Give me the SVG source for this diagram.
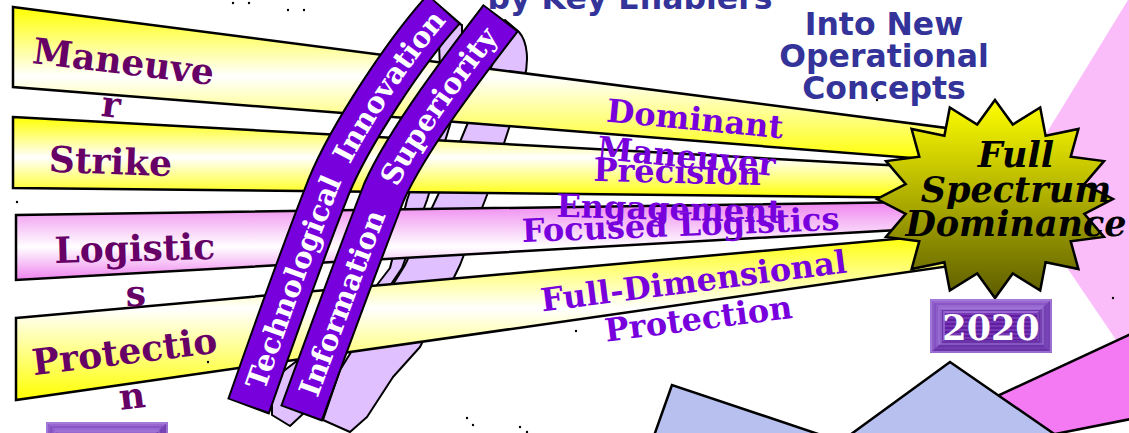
<svg xmlns="http://www.w3.org/2000/svg" width="1129" height="433" viewBox="0 0 1129 433">
<defs>
<linearGradient id="gY" x1="0" y1="0" x2="0" y2="1"><stop offset="0" stop-color="#ffff00"/><stop offset="0.5" stop-color="#ffffff"/><stop offset="1" stop-color="#ffff00"/></linearGradient>
<linearGradient id="gY1" x1="0" y1="0" x2="0" y2="1"><stop offset="0" stop-color="#ffff00"/><stop offset="0.45" stop-color="#ffffff"/><stop offset="1" stop-color="#ffff00"/></linearGradient>
<linearGradient id="gP" x1="0" y1="0" x2="0" y2="1"><stop offset="0" stop-color="#ee82ee"/><stop offset="0.58" stop-color="#ffffff"/><stop offset="1" stop-color="#ee82ee"/></linearGradient>
<linearGradient id="gStar" x1="0" y1="0" x2="0" y2="1"><stop offset="0" stop-color="#ffff00"/><stop offset="1" stop-color="#5c5c00"/></linearGradient>
<pattern id="stripes" width="4" height="4" patternUnits="userSpaceOnUse"><rect width="4" height="2" fill="#5e1e9e"/><rect y="2" width="4" height="2" fill="#7636b6"/></pattern>
<path id="c1" d="M 249 405 C 278 322 303 252 329 186 C 350 135 405 52 443 10"/>
<path id="c2" d="M 302 412 C 330 335 357 262 384 192 C 408 138 470 58 500 19"/>
<g id="badge">
<rect x="0" y="0" width="122" height="54" fill="#8a5ac4"/>
<polygon points="0,0 122,0 107,14 15,14" fill="#9868d0"/>
<polygon points="0,0 15,14 15,41 0,54" fill="#8e5ec8"/>
<polygon points="122,0 107,14 107,41 122,54" fill="#7440b2"/>
<polygon points="0,54 15,41 107,41 122,54" fill="#6a34a8"/>
<rect x="1" y="1" width="120" height="52" fill="none" stroke="#a880dc" stroke-width="1.5"/>
<rect x="5" y="5" width="112" height="44" fill="none" stroke="#7a46ba" stroke-width="1"/>
<rect x="9" y="9" width="104" height="36" fill="none" stroke="#a078d8" stroke-width="1"/>
<rect x="12.5" y="11.5" width="97" height="31" fill="none" stroke="#6a30aa" stroke-width="1"/>
<rect x="15" y="14" width="92" height="27" fill="url(#stripes)"/>
</g>
</defs>
<style>
.band{stroke:#000;stroke-width:2.5;stroke-linejoin:miter}
.back{fill:#e0c0ff;stroke:#000;stroke-width:2;stroke-linejoin:round}
.shape{stroke:#000;stroke-width:2.5;stroke-linejoin:miter}
.lbl{font-family:"DejaVu Serif",serif;font-weight:bold;font-size:36px;fill:#660066;text-anchor:middle}
.rlbl{font-family:"DejaVu Serif",serif;font-weight:bold;font-size:32px;fill:#7700dd;text-anchor:middle}
.title{font-family:"DejaVu Sans",sans-serif;font-weight:bold;font-size:31.5px;fill:#333399;text-anchor:middle}
.rib{font-family:"DejaVu Serif",serif;font-weight:bold;font-size:29px;fill:#ffffff}
.startxt{font-family:"DejaVu Serif",serif;font-weight:bold;font-style:italic;font-size:35px;fill:#000000;text-anchor:middle}
.yr{font-family:"DejaVu Serif",serif;font-weight:bold;font-size:35px;fill:#ffffff;text-anchor:middle}
.dot{fill:#000}
</style>
<rect width="1129" height="433" fill="#ffffff"/>

<g id="background-shapes">
<polygon points="1013,188 1131,-5 1131,362" fill="#fabdfa"/>
<polygon class="shape" points="950,418 1131,334 1131,419 1040,437" fill="#f47af4"/>
<polygon class="shape" points="672,385 652.5,440 836,440" fill="#b8c0f0"/>
<polygon class="shape" points="950,362 843,440 1063,440" fill="#b8c0f0"/>
</g>

<g id="ring-backs">
<path id="ring2-back" class="back" d="M 505 20 L 519 32 C 528 42 529 62 524 80 L 510 125 L 487 195 L 460 265 L 420 347 L 393 377 L 367 417 L 350 432 L 323 420 L 340 370 L 405 265 L 438 195 L 467 125 L 492 65 Z"/>
<path id="ring1-back" class="back" d="M 438 15 L 440 70 L 433 125 L 407 200 L 390 268 L 350 320 L 272 380 L 272 415 L 290 426 L 305 412 L 320 375 L 360 330 L 402 268 L 427 200 L 450 125 L 462 70 L 462 25 Z"/>
</g>

<g id="bands">
<path id="band-maneuver" class="band" d="M 13 7 L 950 128.4 L 950 161 L 13 87 Z" fill="url(#gY1)"/>
<path id="band-strike" class="band" d="M 13 117 L 950 168.5 L 950 198 L 13 188 Z" fill="url(#gY)"/>
<path id="band-logistics" class="band" d="M 16 215 L 950 201.5 L 950 227 L 16 280 Z" fill="url(#gP)"/>
<path id="band-protection" class="band" d="M 16 318 L 950 234 L 950 266 L 16 400 Z" fill="url(#gY1)"/>
</g>

<g id="band-labels">
<text class="lbl" transform="translate(122,74) rotate(7)"><tspan x="0" y="0">Maneuve</tspan><tspan x="-7" y="44">r</tspan></text>
<text class="lbl" transform="translate(110,174) rotate(2)">Strike</text>
<text class="lbl" transform="translate(135,261) rotate(-1.5)"><tspan x="0" y="0">Logistic</tspan><tspan x="0" y="45">s</tspan></text>
<text class="lbl" transform="translate(126,364) rotate(-7)"><tspan x="0" y="0">Protectio</tspan><tspan x="2" y="45">n</tspan></text>
</g>

<g id="ring1-front">
<path d="M 248.3 406.9 L 249 405 C 278 322 303 252 329 186 C 350 135 405 52 443 10 L 444.3 8.5" fill="none" stroke="#000" stroke-width="45"/>
<use href="#c1" fill="none" stroke="#7700dd" stroke-width="41"/>
<text class="rib" dy="10"><textPath href="#c1" startOffset="18">Technological</textPath></text>
<text class="rib" dy="10"><textPath href="#c1" startOffset="262">Innovation</textPath></text>
</g>
<g id="ring2-front">
<path d="M 301.3 413.9 L 302 412 C 330 335 357 262 384 192 C 408 138 470 58 500 19 L 501.2 17.4" fill="none" stroke="#000" stroke-width="45"/>
<use href="#c2" fill="none" stroke="#7700dd" stroke-width="41"/>
<text class="rib" dy="10"><textPath href="#c2" startOffset="18">Information</textPath></text>
<text class="rib" dy="10"><textPath href="#c2" startOffset="245">Superiority</textPath></text>
</g>

<g id="concept-labels">
<text class="rlbl" transform="translate(694,130) rotate(5.5)"><tspan x="0" y="0">Dominant</tspan><tspan x="-5" y="38">Maneuver</tspan></text>
<text class="rlbl" transform="translate(677,183) rotate(1.5)"><tspan x="0" y="0">Precision</tspan><tspan x="-7" y="37">Engagement</tspan></text>
<text class="rlbl" transform="translate(681,236) rotate(-2.2)">Focused Logistics</text>
<text class="rlbl" transform="translate(695,292) rotate(-7.3)"><tspan x="0" y="0">Full-Dimensional</tspan><tspan x="0" y="38">Protection</tspan></text>
</g>

<g id="titles">
<text class="title" x="630" y="9">by Key Enablers</text>
<text class="title"><tspan x="884" y="35">Into New</tspan><tspan x="884" y="67">Operational</tspan><tspan x="884" y="99">Concepts</tspan></text>
</g>

<g id="star">
<polygon points="995,100 1012.8,124.5 1040.2,107.5 1045.6,135.8 1078.4,129 1070.7,156.8 1104,161.1 1084.3,184.2 1113,199 1084.3,213.8 1104,236.9 1070.7,241.2 1078.4,269 1045.6,262.2 1040.2,290.5 1012.8,273.5 995,298 977.2,273.5 949.8,290.5 944.4,262.2 911.6,269 919.3,241.2 886,236.9 905.7,213.8 877,199 905.7,184.2 886,161.1 919.3,156.8 911.6,129 944.4,135.8 949.8,107.5 977.2,124.5" fill="url(#gStar)" stroke="#000" stroke-width="2.5" stroke-linejoin="miter"/>
<text class="startxt"><tspan x="1016" y="167">Full</tspan><tspan x="1016" y="202">Spectrum</tspan><tspan x="1016" y="236">Dominance</tspan></text>
</g>

<g id="badge-2020">
<use href="#badge" transform="translate(930,299)"/>
<text class="yr" x="991" y="340">2020</text>
</g>
<g id="badge-left">
<use href="#badge" transform="translate(46,422)"/>
</g>

<g id="specks">
<circle class="dot" cx="233" cy="3" r="1.2"/><circle class="dot" cx="249" cy="3" r="1.2"/>
<circle class="dot" cx="288" cy="10" r="1.2"/><circle class="dot" cx="304" cy="10" r="1.2"/>
<circle class="dot" cx="17" cy="202" r="1.2"/><circle class="dot" cx="208" cy="362" r="1.2"/>
<circle class="dot" cx="576" cy="331" r="1.2"/><circle class="dot" cx="877" cy="100" r="1.2"/>
<circle class="dot" cx="1113" cy="298" r="1.2"/><circle class="dot" cx="467" cy="418" r="1.2"/>
<circle class="dot" cx="473" cy="425" r="1.2"/><circle class="dot" cx="520" cy="427" r="1.2"/>
<circle class="dot" cx="527" cy="432" r="1.2"/>
</g>
</svg>
